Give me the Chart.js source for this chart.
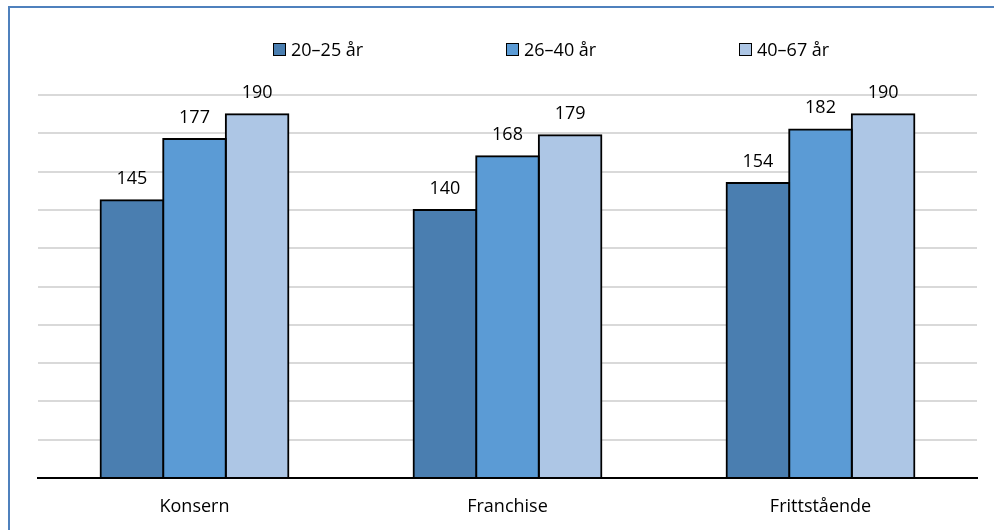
<!DOCTYPE html>
<html>
<head>
<meta charset="utf-8">
<script src="https://cdn.jsdelivr.net/npm/chart.js@4.4.0/dist/chart.umd.min.js"></script>
<style>
  html, body { margin: 0; padding: 0; background: #fff; }
  #wrap { position: relative; width: 994px; height: 530px; overflow: hidden; font-family: "Open Sans", sans-serif; }
  #frame { position: absolute; left: 8px; top: 6px; right: 0; bottom: -10px; border-top: 2px solid #4f81bd; border-left: 2px solid #4f81bd; }
  #chart { position: absolute; left: 0; top: 0; }
  #legend { position: absolute; left: 273px; top: 36px; display: flex; font-size: 18px; color: #000; }
  #legend .item { width: 233px; display: flex; align-items: center; height: 26px; }
  #legend .box { width: 11px; height: 11px; border: 1.5px solid #000; margin-right: 5px; }
</style>
</head>
<body>
<div id="wrap">
  <div id="frame"></div>
  <canvas id="chart" width="994" height="530"></canvas>
  <div id="legend"></div>
</div>
<script>
// categories and series
var categories = ["Konsern", "Franchise", "Frittstående"];
var seriesNames = ["20–25 år", "26–40 år", "40–67 år"];
var age20to25 = [145, 140, 154];
var age26to40 = [177, 168, 182];
var age40to67 = [190, 179, 190];
var seriesColors = ["#4a7eb0", "#5b9bd5", "#adc6e5"];

// value labels above each bar
var valueLabels = {
    id: 'valueLabels',
    afterDatasetsDraw: function(chart) {
        var ctx = chart.ctx;
        ctx.save();
        ctx.font = '18px "Open Sans"';
        ctx.fillStyle = '#000';
        ctx.textAlign = 'center';
        ctx.textBaseline = 'alphabetic';
        chart.data.datasets.forEach(function(ds, i) {
            chart.getDatasetMeta(i).data.forEach(function(bar, j) {
                ctx.fillText(ds.data[j], bar.x, bar.y - 16);
            });
        });
        ctx.restore();
    }
};

var chartData = {
    labels: categories,
    datasets: [age20to25, age26to40, age40to67].map(function(values, i) {
        return {
            label: seriesNames[i],
            data: values,
            backgroundColor: seriesColors[i],
            borderColor: "#000",
            borderWidth: 2,
            borderSkipped: 'bottom',
            inflateAmount: 1,
            categoryPercentage: 0.6,
            barPercentage: 1.0
        };
    })
};

var chartOptions = {
    responsive: false,
    animation: false,
    layout: {
        padding: { top: 95, left: 38, right: 17, bottom: 0 }
    },
    plugins: {
        legend: { display: false },
        tooltip: { enabled: false }
    },
    scales: {
        x: {
            grid: { display: false, drawTicks: false },
            border: { display: true, color: "#000", width: 2 },
            ticks: {
                color: "#000",
                padding: 18,
                font: { family: "Open Sans", size: 18 }
            },
            afterFit: function(scale) { scale.height = 52; }
        },
        y: {
            min: 0,
            max: 200,
            ticks: { display: false, stepSize: 20 },
            grid: { color: "#d9d9d9", lineWidth: 2, drawTicks: false },
            border: { display: false }
        }
    }
};

var chart = new Chart(document.getElementById("chart"), {
    type: 'bar',
    data: chartData,
    options: chartOptions,
    plugins: [valueLabels]
});

// legend built from the datasets
var legend = document.getElementById("legend");
chart.data.datasets.forEach(function(ds) {
    var item = document.createElement("div");
    item.className = "item";
    var box = document.createElement("span");
    box.className = "box";
    box.style.background = ds.backgroundColor;
    var text = document.createElement("span");
    text.textContent = ds.label;
    item.appendChild(box);
    item.appendChild(text);
    legend.appendChild(item);
});
</script>
</body>
</html>
